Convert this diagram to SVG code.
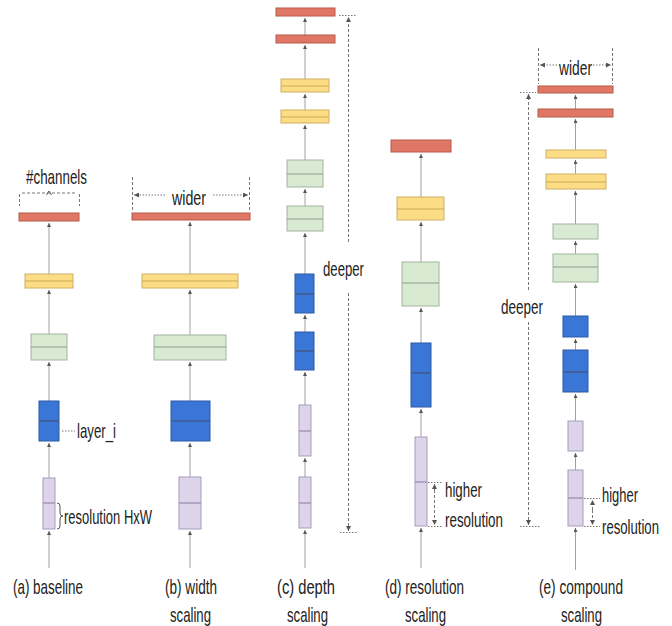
<svg xmlns="http://www.w3.org/2000/svg" width="672" height="626" viewBox="0 0 672 626">
  <defs>
    <marker id="ah" viewBox="0 0 6 6" refX="6" refY="3" markerWidth="4" markerHeight="4" orient="auto" markerUnits="userSpaceOnUse">
      <path d="M0,0 L6,3 L0,6 z" fill="#555"/>
    </marker>
    <marker id="dh" viewBox="0 0 6 6" refX="6" refY="3" markerWidth="5" markerHeight="5" orient="auto" markerUnits="userSpaceOnUse">
      <path d="M0,0 L6,3 L0,6 z" fill="#555"/>
    </marker>
    <style>
      .red{fill:#e07766;stroke:#b85b4b;stroke-width:1}
      .yel{fill:#fcdc85;stroke:#cdb064;stroke-width:1}
      .grn{fill:#d9ead3;stroke:#a3b39f;stroke-width:1}
      .blu{fill:#3a76d6;stroke:#2d5aa5;stroke-width:1}
      .lav{fill:#dcd5ea;stroke:#a79bbf;stroke-width:1}
      .myel{stroke:#c9a955;stroke-width:1.2}
      .mgrn{stroke:#8e9e89;stroke-width:1.2}
      .mblu{stroke:#3e5a8e;stroke-width:1.6}
      .mlav{stroke:#9e92b6;stroke-width:1.4}
      .wire{stroke:#a0a0a0;stroke-width:1;fill:none;marker-end:url(#ah)}
      .dash{stroke:#777;stroke-width:1;stroke-dasharray:3 2;fill:none}
      .dot{stroke:#777;stroke-width:1;stroke-dasharray:1.5 1.5;fill:none}
      .lbl{font-family:"Liberation Sans",Arial,sans-serif;font-size:21px;fill:#222}
    </style>
  </defs>

  <!-- connectors -->
  <g id="connectors">
    <!-- (a) baseline -->
    <line class="wire" x1="49" y1="568" x2="49" y2="531"/>
    <line class="wire" x1="49" y1="478" x2="49" y2="443"/>
    <line class="wire" x1="49" y1="401" x2="49" y2="362"/>
    <line class="wire" x1="49" y1="334" x2="49" y2="290"/>
    <line class="wire" x1="49" y1="274" x2="49" y2="223"/>
    <!-- (b) width -->
    <line class="wire" x1="190" y1="568" x2="190" y2="531"/>
    <line class="wire" x1="190" y1="477" x2="190" y2="443"/>
    <line class="wire" x1="190" y1="401" x2="190" y2="362"/>
    <line class="wire" x1="190" y1="335" x2="190" y2="290"/>
    <line class="wire" x1="190" y1="274" x2="190" y2="222"/>
    <!-- (c) depth -->
    <line class="wire" x1="305" y1="568" x2="305" y2="530"/>
    <line class="wire" x1="305" y1="477" x2="305" y2="458"/>
    <line class="wire" x1="305" y1="405" x2="305" y2="372"/>
    <line class="wire" x1="305" y1="332" x2="305" y2="315"/>
    <line class="wire" x1="305" y1="274" x2="305" y2="233"/>
    <line class="wire" x1="305" y1="206" x2="305" y2="189"/>
    <line class="wire" x1="305" y1="160" x2="305" y2="125"/>
    <line class="wire" x1="305" y1="110" x2="305" y2="94"/>
    <line class="wire" x1="305" y1="79" x2="305" y2="45"/>
    <line class="wire" x1="305" y1="35" x2="305" y2="18"/>
    <!-- (d) resolution -->
    <line class="wire" x1="421" y1="568" x2="421" y2="528"/>
    <line class="wire" x1="421" y1="437" x2="421" y2="409"/>
    <line class="wire" x1="421" y1="343" x2="421" y2="308"/>
    <line class="wire" x1="421" y1="262" x2="421" y2="222"/>
    <line class="wire" x1="421" y1="197" x2="421" y2="154"/>
    <!-- (e) compound -->
    <line class="wire" x1="575.5" y1="570" x2="575.5" y2="528"/>
    <line class="wire" x1="575.5" y1="470" x2="575.5" y2="453"/>
    <line class="wire" x1="575.5" y1="421" x2="575.5" y2="394"/>
    <line class="wire" x1="575.5" y1="350" x2="575.5" y2="339"/>
    <line class="wire" x1="575.5" y1="316" x2="575.5" y2="284"/>
    <line class="wire" x1="575.5" y1="254" x2="575.5" y2="241"/>
    <line class="wire" x1="575.5" y1="224" x2="575.5" y2="191"/>
    <line class="wire" x1="575.5" y1="174" x2="575.5" y2="160"/>
    <line class="wire" x1="575.5" y1="150" x2="575.5" y2="119"/>
    <line class="wire" x1="575.5" y1="109" x2="575.5" y2="95"/>
  </g>

  <!-- (a) baseline -->
  <g id="a-red"><rect class="red" x="19" y="213" width="60" height="8"/></g>
  <g id="a-yellow"><rect class="yel" x="25" y="274" width="48" height="14"/><line class="myel" x1="25" y1="281" x2="73" y2="281"/></g>
  <g id="a-green"><rect class="grn" x="31" y="334" width="36" height="26"/><line class="mgrn" x1="31" y1="347" x2="67" y2="347"/></g>
  <g id="a-blue"><rect class="blu" x="39" y="401" width="20" height="40"/><line class="mblu" x1="39" y1="421" x2="59" y2="421"/></g>
  <g id="a-lavender"><rect class="lav" x="43" y="478" width="12" height="51"/><line class="mlav" x1="43" y1="503" x2="55" y2="503"/></g>

  <!-- (b) width scaling -->
  <g id="b-red"><rect class="red" x="132" y="213" width="118" height="7"/></g>
  <g id="b-yellow"><rect class="yel" x="142" y="274" width="96" height="14"/><line class="myel" x1="142" y1="281" x2="238" y2="281"/></g>
  <g id="b-green"><rect class="grn" x="154" y="335" width="72" height="25"/><line class="mgrn" x1="154" y1="347" x2="226" y2="347"/></g>
  <g id="b-blue"><rect class="blu" x="171" y="401" width="39" height="40"/><line class="mblu" x1="171" y1="421" x2="210" y2="421"/></g>
  <g id="b-lavender"><rect class="lav" x="179" y="477" width="22" height="52"/><line class="mlav" x1="179" y1="503" x2="201" y2="503"/></g>

  <!-- (c) depth scaling -->
  <g id="c-red1"><rect class="red" x="276" y="8" width="59" height="8"/></g>
  <g id="c-red2"><rect class="red" x="276" y="35" width="59" height="8"/></g>
  <g id="c-yellow1"><rect class="yel" x="281" y="79" width="48" height="13"/><line class="myel" x1="281" y1="86" x2="329" y2="86"/></g>
  <g id="c-yellow2"><rect class="yel" x="281" y="110" width="48" height="13"/><line class="myel" x1="281" y1="117" x2="329" y2="117"/></g>
  <g id="c-green1"><rect class="grn" x="287" y="160" width="36" height="27"/><line class="mgrn" x1="287" y1="174" x2="323" y2="174"/></g>
  <g id="c-green2"><rect class="grn" x="287" y="206" width="36" height="25"/><line class="mgrn" x1="287" y1="219" x2="323" y2="219"/></g>
  <g id="c-blue1"><rect class="blu" x="295" y="274" width="19" height="39"/><line class="mblu" x1="295" y1="294" x2="314" y2="294"/></g>
  <g id="c-blue2"><rect class="blu" x="295" y="332" width="19" height="38"/><line class="mblu" x1="295" y1="351" x2="314" y2="351"/></g>
  <g id="c-lavender1"><rect class="lav" x="299" y="405" width="12" height="51"/><line class="mlav" x1="299" y1="431" x2="311" y2="431"/></g>
  <g id="c-lavender2"><rect class="lav" x="299" y="477" width="12" height="51"/><line class="mlav" x1="299" y1="503" x2="311" y2="503"/></g>

  <!-- (d) resolution scaling -->
  <g id="d-red"><rect class="red" x="391" y="140" width="60" height="12"/></g>
  <g id="d-yellow"><rect class="yel" x="397" y="197" width="47" height="23"/><line class="myel" x1="397" y1="209" x2="444" y2="209"/></g>
  <g id="d-green"><rect class="grn" x="402" y="262" width="37" height="44"/><line class="mgrn" x1="402" y1="283" x2="439" y2="283"/></g>
  <g id="d-blue"><rect class="blu" x="411" y="343" width="20" height="64"/><line class="mblu" x1="411" y1="373" x2="431" y2="373"/></g>
  <g id="d-lavender"><rect class="lav" x="415" y="437" width="12" height="89"/><line class="mlav" x1="415" y1="482" x2="427" y2="482"/></g>

  <!-- (e) compound scaling -->
  <g id="e-red1"><rect class="red" x="538" y="86" width="75" height="7"/></g>
  <g id="e-red2"><rect class="red" x="538" y="109" width="75" height="8"/></g>
  <g id="e-yellow1"><rect class="yel" x="546" y="150" width="60" height="8"/></g>
  <g id="e-yellow2"><rect class="yel" x="546" y="174" width="60" height="15"/><line class="myel" x1="546" y1="182" x2="606" y2="182"/></g>
  <g id="e-green1"><rect class="grn" x="553" y="224" width="45" height="15"/></g>
  <g id="e-green2"><rect class="grn" x="553" y="254" width="45" height="28"/><line class="mgrn" x1="553" y1="267" x2="598" y2="267"/></g>
  <g id="e-blue1"><rect class="blu" x="563" y="316" width="25" height="21"/></g>
  <g id="e-blue2"><rect class="blu" x="563" y="350" width="25" height="42"/><line class="mblu" x1="563" y1="372" x2="588" y2="372"/></g>
  <g id="e-lavender1"><rect class="lav" x="568" y="421" width="15" height="30"/></g>
  <g id="e-lavender2"><rect class="lav" x="568" y="470" width="15" height="56"/><line class="mlav" x1="568" y1="498" x2="583" y2="498"/></g>

  <!-- annotations -->
  <g id="ann-channels">
    <text class="lbl" x="26" y="184" textLength="61" lengthAdjust="spacingAndGlyphs">#channels</text>
    <line class="dash" x1="22" y1="193" x2="76" y2="193"/>
    <line class="dash" x1="19.5" y1="194" x2="19.5" y2="206"/>
    <line class="dash" x1="79.5" y1="194" x2="79.5" y2="206"/>
    <path d="M46.5,195 L49,191 L51.5,195" fill="none" stroke="#555" stroke-width="1"/>
  </g>
  <g id="ann-layer">
    <line class="dot" x1="62" y1="431" x2="75" y2="431"/>
    <text class="lbl" x="77" y="438" textLength="39" lengthAdjust="spacingAndGlyphs">layer_i</text>
  </g>
  <g id="ann-resolution-a">
    <path d="M57,503 q3,0 3,3 v7 q0,3 3,3 q-3,0 -3,3 v7 q0,3 -3,3" fill="none" stroke="#555" stroke-width="1"/>
    <text class="lbl" x="64" y="524" textLength="88" lengthAdjust="spacingAndGlyphs">resolution HxW</text>
  </g>

  <g id="ann-wider-b">
    <line class="dash" x1="132.5" y1="177" x2="132.5" y2="210"/>
    <line class="dash" x1="249.5" y1="177" x2="249.5" y2="210"/>
    <line class="dot" x1="165" y1="195" x2="134" y2="195" marker-end="url(#dh)"/>
    <line class="dot" x1="213" y1="195" x2="248" y2="195" marker-end="url(#dh)"/>
    <text class="lbl" x="172" y="205" textLength="34" lengthAdjust="spacingAndGlyphs">wider</text>
  </g>

  <g id="ann-deeper-c">
    <line class="dot" x1="339" y1="15.5" x2="357" y2="15.5"/>
    <line class="dash" x1="348.5" y1="242" x2="348.5" y2="17" marker-end="url(#dh)"/>
    <line class="dash" x1="348.5" y1="293" x2="348.5" y2="531" marker-end="url(#dh)"/>
    <line class="dot" x1="340" y1="532.5" x2="358" y2="532.5"/>
    <text class="lbl" x="323" y="276" textLength="41" lengthAdjust="spacingAndGlyphs">deeper</text>
  </g>

  <g id="ann-resolution-d">
    <line class="dot" x1="428" y1="482.5" x2="443" y2="482.5"/>
    <line class="dash" x1="434.5" y1="490" x2="434.5" y2="484" marker-end="url(#dh)"/>
    <line class="dash" x1="434.5" y1="490" x2="434.5" y2="525" marker-end="url(#dh)"/>
    <line class="dot" x1="428" y1="526.5" x2="443" y2="526.5"/>
    <text class="lbl" x="445" y="497" textLength="37" lengthAdjust="spacingAndGlyphs">higher</text>
    <text class="lbl" x="445" y="527" textLength="58" lengthAdjust="spacingAndGlyphs">resolution</text>
  </g>

  <g id="ann-wider-e">
    <line class="dash" x1="538.5" y1="48" x2="538.5" y2="84"/>
    <line class="dash" x1="612.5" y1="48" x2="612.5" y2="84"/>
    <line class="dot" x1="557" y1="65" x2="540" y2="65" marker-end="url(#dh)"/>
    <line class="dot" x1="593" y1="65" x2="611" y2="65" marker-end="url(#dh)"/>
    <text class="lbl" x="559" y="75" textLength="33" lengthAdjust="spacingAndGlyphs">wider</text>
  </g>

  <g id="ann-deeper-e">
    <line class="dot" x1="520" y1="92.5" x2="536" y2="92.5"/>
    <line class="dash" x1="528.5" y1="290" x2="528.5" y2="94" marker-end="url(#dh)"/>
    <line class="dash" x1="528.5" y1="322" x2="528.5" y2="525" marker-end="url(#dh)"/>
    <line class="dot" x1="520" y1="526.5" x2="540" y2="526.5"/>
    <text class="lbl" x="501" y="314" textLength="42" lengthAdjust="spacingAndGlyphs">deeper</text>
  </g>

  <g id="ann-resolution-e">
    <line class="dot" x1="584" y1="498.5" x2="600" y2="498.5"/>
    <line class="dash" x1="592.5" y1="510" x2="592.5" y2="500" marker-end="url(#dh)"/>
    <line class="dash" x1="592.5" y1="510" x2="592.5" y2="525" marker-end="url(#dh)"/>
    <line class="dot" x1="584" y1="526.5" x2="600" y2="526.5"/>
    <text class="lbl" x="602" y="502" textLength="36" lengthAdjust="spacingAndGlyphs">higher</text>
    <text class="lbl" x="602" y="534" textLength="57" lengthAdjust="spacingAndGlyphs">resolution</text>
  </g>

  <!-- captions -->
  <g id="captions">
    <text class="lbl" x="13" y="594" textLength="70" lengthAdjust="spacingAndGlyphs">(a) baseline</text>
    <text class="lbl" x="165" y="594" textLength="52" lengthAdjust="spacingAndGlyphs">(b) width</text>
    <text class="lbl" x="170" y="622" textLength="41" lengthAdjust="spacingAndGlyphs">scaling</text>
    <text class="lbl" x="277" y="594" textLength="58" lengthAdjust="spacingAndGlyphs">(c) depth</text>
    <text class="lbl" x="287" y="622" textLength="41" lengthAdjust="spacingAndGlyphs">scaling</text>
    <text class="lbl" x="385" y="594" textLength="79" lengthAdjust="spacingAndGlyphs">(d) resolution</text>
    <text class="lbl" x="405" y="622" textLength="41" lengthAdjust="spacingAndGlyphs">scaling</text>
    <text class="lbl" x="539" y="594" textLength="84" lengthAdjust="spacingAndGlyphs">(e) compound</text>
    <text class="lbl" x="561" y="622" textLength="41" lengthAdjust="spacingAndGlyphs">scaling</text>
  </g>
</svg>
